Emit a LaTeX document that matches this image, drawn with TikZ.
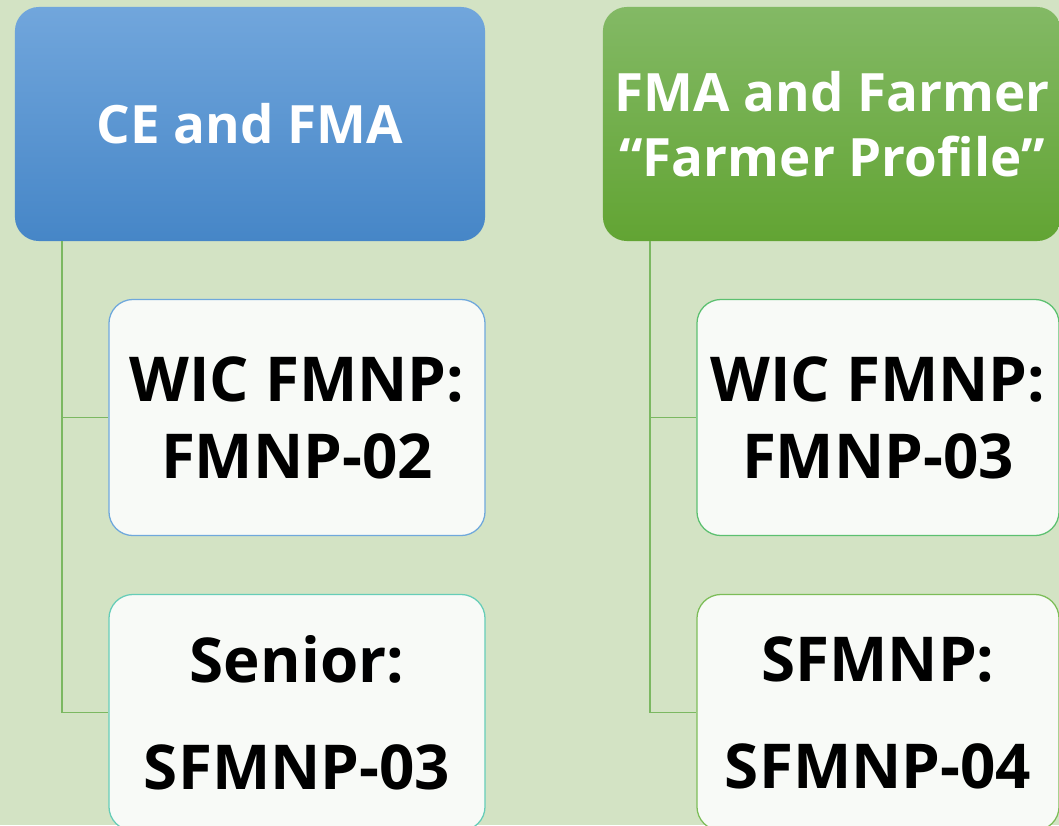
\documentclass[tikz,border=0pt]{standalone}
\usepackage{fontspec}
\setsansfont{Open Sans}
\usepackage{xcolor}
\definecolor{bgGreen}{HTML}{D3E3C4}
\definecolor{blueTop}{HTML}{71A6DC}
\definecolor{blueBot}{HTML}{4686C7}
\definecolor{greenTop}{HTML}{83B965}
\definecolor{greenBot}{HTML}{62A433}
\definecolor{cardFill}{HTML}{F8FAF7}
\definecolor{edgeBlue}{HTML}{6FA8DC}
\definecolor{edgeTeal}{HTML}{66CDB8}
\definecolor{edgeGreen}{HTML}{5CC070}
\definecolor{edgeLeaf}{HTML}{7CBD58}
\definecolor{linkGreen}{HTML}{7BB861}

\begin{document}
\begin{tikzpicture}[x=0.025cm,y=-0.025cm,
	header/.style={rounded corners=0.6cm,text=white,align=center,
		font=\sffamily\bfseries\fontsize{37.6}{46}\selectfont,
		minimum height=5.85cm,inner sep=0pt},
	card/.style={rounded corners=0.6cm,fill=cardFill,line width=0.9pt,
		align=center,font=\sffamily\bfseries\fontsize{44}{52}\selectfont,
		minimum height=5.9cm,inner sep=0pt},
	link/.style={draw=linkGreen,line width=1.3pt}]
	\useasboundingbox (0,0) rectangle (1059,825);
	\clip (0,0) rectangle (1059,825);
	\fill[bgGreen] (0,0) rectangle (1059,825);
	% top row
	\node[header,top color=blueTop,bottom color=blueBot,minimum width=11.75cm] (ce) at (250,124) {CE and FMA};
	\node[header,top color=greenTop,bottom color=greenBot,minimum width=11.45cm] (fma) at (832,124)
		{FMA and Farmer\\``Farmer Profile''};
	% left column
	\node[card,draw=edgeBlue,minimum width=9.4cm] (wicA) at (297,417.5)
		{WIC FMNP:\\[0.1cm]FMNP-02};
	\node[card,draw=edgeTeal,minimum width=9.4cm] (senior) at (297,712.5)
		{Senior:\\[0.85cm]SFMNP-03};
	% right column
	\node[card,draw=edgeGreen,minimum width=9.05cm] (wicB) at (878,417.5)
		{WIC FMNP:\\[0.1cm]FMNP-03};
	\node[card,draw=edgeLeaf,minimum width=9.05cm] (sfmnp) at (878,712.5)
		{SFMNP:\\[0.85cm]SFMNP-04};
	% connectors
	\path[link] ([xshift=1.175cm]ce.south west) |- (wicA.west);
	\path[link] ([xshift=1.175cm]ce.south west) |- (senior.west);
	\path[link] ([xshift=1.175cm]fma.south west) |- (wicB.west);
	\path[link] ([xshift=1.175cm]fma.south west) |- (sfmnp.west);
\end{tikzpicture}
\end{document}
